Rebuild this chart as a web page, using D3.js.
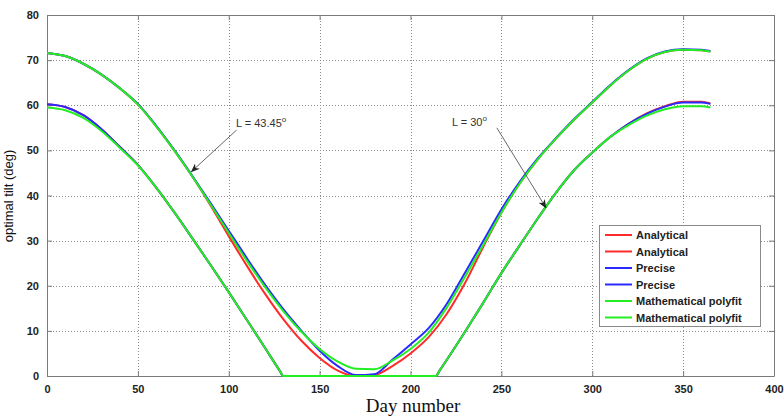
<!DOCTYPE html>
<html>
<head>
<meta charset="utf-8">
<script src="https://cdn.jsdelivr.net/npm/d3@7/dist/d3.min.js"></script>
<style>
  html, body { margin: 0; padding: 0; background: #fff; }
  svg { display: block; }
</style>
</head>
<body>
<svg id="chart" width="784" height="419"></svg>
<script>
// Tick values
const xTicks = [0, 50, 100, 150, 200, 250, 300, 350, 400];
const yTicks = [0, 10, 20, 30, 40, 50, 60, 70, 80];

// Day grids for the two latitude curves
const daysUpper = [0, 10, 20, 30, 40, 50, 60, 70, 80, 90, 100, 110, 120, 130, 140, 150, 160, 170, 180,
  190, 200, 210, 220, 230, 240, 250, 260, 270, 280, 290, 300, 310, 320, 330, 340, 350, 360, 365];
const daysLower = [0, 10, 20, 30, 40, 50, 60, 70, 80, 90, 100, 110, 120, 128, 130, 214, 216, 220,
  230, 240, 250, 260, 270, 280, 290, 300, 310, 320, 330, 340, 350, 360, 365];

// L = 43.45 deg
const upperAnalytical = [71.6, 70.9, 69.2, 66.8, 63.8, 60.2, 55.4, 50.0, 44.2, 37.8, 31.0, 24.4, 18.2, 12.6, 7.8, 4.0, 1.2, 0.0, 0.2,
  2.2, 5.0, 8.6, 13.8, 20.6, 28.6, 36.2, 42.6, 48.0, 52.6, 56.8, 60.6, 64.4, 67.7, 70.3, 71.8, 72.3, 72.2, 71.9];
const upperPrecise = [71.6, 70.9, 69.2, 66.8, 63.8, 60.3, 55.5, 50.1, 44.3, 38.3, 32.2, 26.1, 20.2, 14.8, 10.0, 5.6, 2.2, 0.2, 0.4,
  3.6, 7.0, 10.6, 16.0, 22.9, 29.9, 36.9, 43.0, 48.2, 52.7, 56.9, 60.7, 64.5, 67.8, 70.4, 71.9, 72.4, 72.3, 72.0];
const upperPolyfit = [71.6, 70.9, 69.2, 66.8, 63.8, 60.2, 55.4, 50.0, 44.2, 38.0, 31.7, 25.5, 19.7, 14.4, 9.8, 6.0, 3.2, 1.6, 1.5,
  3.4, 6.0, 9.6, 15.2, 22.0, 29.0, 36.2, 42.6, 48.0, 52.6, 56.8, 60.6, 64.4, 67.7, 70.3, 71.8, 72.3, 72.2, 71.9];

// L = 30 deg
const lowerAnalytical = [60.2, 59.6, 57.8, 54.7, 50.8, 46.8, 41.8, 36.3, 30.5, 24.6, 18.6, 12.4, 6.2, 1.2, 0, 0, 1.2, 3.6,
  9.8, 16.2, 22.8, 28.9, 34.9, 40.6, 45.6, 49.5, 53.0, 55.9, 58.2, 59.8, 60.8, 60.8, 60.4];
const lowerPrecise = [60.2, 59.6, 57.8, 54.7, 50.8, 46.8, 41.8, 36.3, 30.5, 24.6, 18.6, 12.4, 6.2, 1.2, 0, 0, 1.2, 3.6,
  9.8, 16.2, 22.8, 28.9, 34.9, 40.6, 45.6, 49.5, 53.0, 55.9, 58.1, 59.7, 60.6, 60.6, 60.3];
const lowerPolyfit = [59.5, 58.9, 57.2, 54.3, 50.6, 46.7, 41.8, 36.3, 30.5, 24.6, 18.6, 12.4, 6.2, 1.2, 0, 0, 1.2, 3.6,
  9.8, 16.2, 22.8, 28.9, 34.9, 40.6, 45.6, 49.5, 53.0, 55.6, 57.7, 59.1, 59.8, 59.8, 59.5];

const legendLabels = ["Analytical", "Analytical", "Precise", "Precise", "Mathematical polyfit", "Mathematical polyfit"];
const seriesColors = ["#ff2a2a", "#ff2a2a", "#2a2aff", "#2a2aff", "#22ee22", "#22ee22"];

(function draw() {
  const svg = d3.select("#chart");
  const plotLeft = 47, plotRight = 774, plotTop = 15, plotBottom = 376;

  const x = d3.scaleLinear().domain([0, 400]).range([plotLeft, plotRight]);
  const y = d3.scaleLinear().domain([0, 80]).range([plotBottom, plotTop]);

  const tickFont = "bold 11px 'Liberation Sans', Arial, sans-serif";

  // dotted grid
  const grid = svg.append("g").attr("stroke", "#8c8c8c").attr("stroke-width", 1)
    .attr("stroke-dasharray", "1,2");
  xTicks.slice(1, -1).forEach(t => {
    grid.append("line").attr("x1", Math.round(x(t)) + 0.5).attr("x2", Math.round(x(t)) + 0.5)
      .attr("y1", plotTop).attr("y2", plotBottom);
  });
  yTicks.slice(1, -1).forEach(t => {
    grid.append("line").attr("x1", plotLeft).attr("x2", plotRight)
      .attr("y1", Math.round(y(t)) + 0.5).attr("y2", Math.round(y(t)) + 0.5);
  });

  // axes with inward ticks on all four sides
  const xAxis = d3.axisBottom(x).tickValues(xTicks).tickSizeInner(-5).tickSizeOuter(0).tickPadding(9);
  const yAxis = d3.axisLeft(y).tickValues(yTicks).tickSizeInner(-5).tickSizeOuter(0).tickPadding(8);
  const xTop = d3.axisTop(x).tickValues(xTicks).tickSizeInner(-5).tickSizeOuter(0).tickFormat("");
  const yRight = d3.axisRight(y).tickValues(yTicks).tickSizeInner(-5).tickSizeOuter(0).tickFormat("");

  function styleAxis(g) {
    g.select(".domain").attr("stroke", "#7a7a7a");
    g.selectAll(".tick line").attr("stroke", "#7a7a7a");
    g.selectAll(".tick text").style("font", tickFont).attr("fill", "#222");
  }
  svg.append("g").attr("transform", `translate(0,${plotBottom})`).call(xAxis).call(styleAxis);
  svg.append("g").attr("transform", `translate(${plotLeft},0)`).call(yAxis).call(styleAxis);
  svg.append("g").attr("transform", `translate(0,${plotTop})`).call(xTop).call(styleAxis);
  svg.append("g").attr("transform", `translate(${plotRight},0)`).call(yRight).call(styleAxis);

  // curves
  const defs = svg.append("defs");
  defs.append("clipPath").attr("id", "plotclip")
    .append("rect").attr("x", plotLeft).attr("y", plotTop - 2)
    .attr("width", plotRight - plotLeft).attr("height", plotBottom - plotTop + 3);

  const line = d3.line().x(d => x(d[0])).y(d => y(d[1])).curve(d3.curveMonotoneX);
  const series = [
    [daysUpper, upperAnalytical], [daysLower, lowerAnalytical],
    [daysUpper, upperPrecise], [daysLower, lowerPrecise],
    [daysUpper, upperPolyfit], [daysLower, lowerPolyfit]
  ];
  const curves = svg.append("g").attr("clip-path", "url(#plotclip)");
  series.forEach((s, i) => {
    const pts = s[0].map((d, j) => [d, s[1][j]]);
    curves.append("path").datum(pts).attr("d", line)
      .attr("fill", "none").attr("stroke", seriesColors[i]).attr("stroke-width", 2)
      .attr("stroke-linejoin", "round");
  });

  // annotations
  defs.append("marker").attr("id", "arrowhead").attr("viewBox", "0 0 10 10")
    .attr("refX", 9).attr("refY", 5).attr("markerWidth", 9).attr("markerHeight", 9)
    .attr("markerUnits", "userSpaceOnUse").attr("orient", "auto")
    .append("path").attr("d", "M0,1 L10,5 L0,9 L3,5 Z").attr("fill", "#222");

  function annotate(tx, ty, label, fromDay, fromVal, toDay, toVal) {
    const t = svg.append("text").attr("x", tx).attr("y", ty)
      .style("font", "11px 'Liberation Sans', Arial, sans-serif").attr("fill", "#333");
    t.append("tspan").text(label);
    t.append("tspan").attr("dy", -5).style("font-size", "8px").text("o");
    svg.append("line")
      .attr("x1", x(fromDay)).attr("y1", y(fromVal))
      .attr("x2", x(toDay)).attr("y2", y(toVal))
      .attr("stroke", "#666").attr("stroke-width", 1).attr("marker-end", "url(#arrowhead)");
  }
  annotate(236, 127, "L = 43.45", 104.3, 54.5, 79.5, 45.3);
  annotate(452, 126, "L = 30", 247.5, 55, 274.5, 37.3);

  // legend
  const lg = svg.append("g");
  lg.append("rect").attr("x", 599.5).attr("y", 225.5).attr("width", 161).attr("height", 101)
    .attr("fill", "#fff").attr("stroke", "#8a8a8a").attr("stroke-width", 1);
  legendLabels.forEach((lab, i) => {
    const yy = 235 + i * 16.5;
    lg.append("line").attr("x1", 605).attr("x2", 632).attr("y1", yy).attr("y2", yy)
      .attr("stroke", seriesColors[i]).attr("stroke-width", 2);
    lg.append("text").attr("x", 636).attr("y", yy + 4).text(lab)
      .style("font", tickFont).attr("fill", "#222");
  });

  // axis titles
  svg.append("text").attr("x", 413).attr("y", 412).attr("text-anchor", "middle")
    .style("font", "19px 'Liberation Serif', 'Times New Roman', serif").attr("fill", "#111")
    .text("Day number");
  svg.append("text").attr("transform", "translate(13,196) rotate(-90)").attr("text-anchor", "middle")
    .style("font", "13px 'Liberation Sans', Arial, sans-serif").attr("fill", "#111")
    .text("optimal tilt (deg)");
})();
</script>
</body>
</html>
